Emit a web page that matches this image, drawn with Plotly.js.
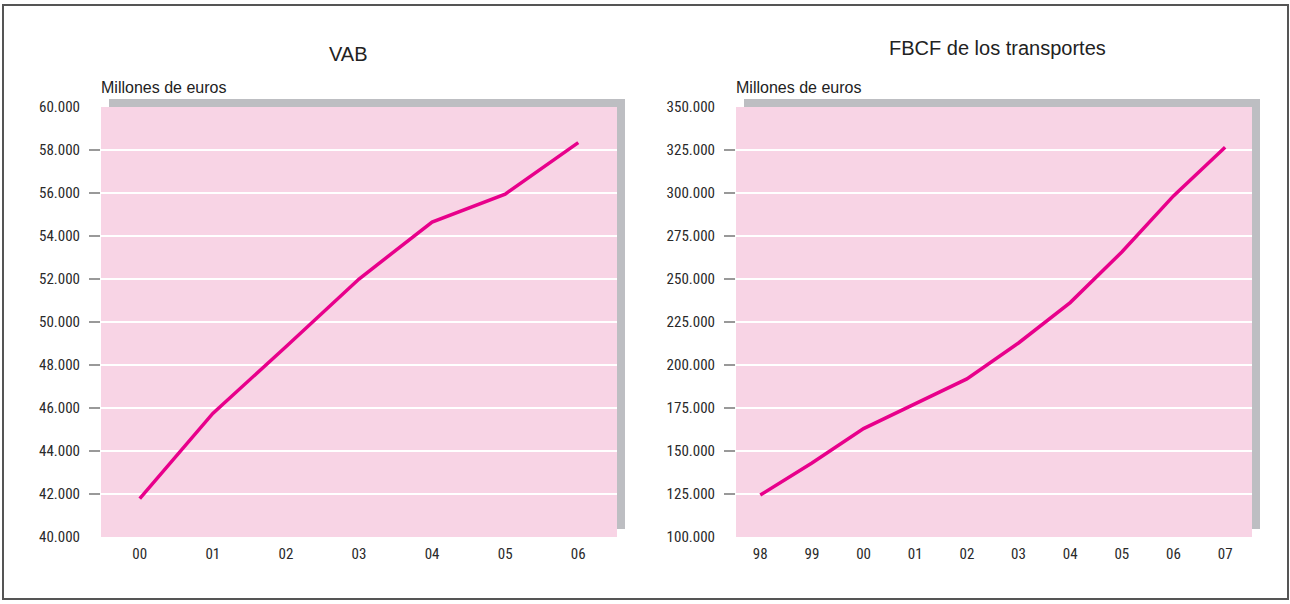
<!DOCTYPE html>
<html>
<head>
<meta charset="utf-8">
<script src="https://cdn.plot.ly/plotly-3.0.1.min.js"></script>
<style>html,body{margin:0;padding:0;background:#fff}#chart{width:1290px;height:604px}</style>
</head>
<body>
<div id="chart"></div>
<script>
// ---- data ----
const vabYears = ['00','01','02','03','04','05','06'];
const vabValues = [41780, 45750, 48850, 52000, 54650, 55950, 58340];
const vabTicks = [40000, 42000, 44000, 46000, 48000, 50000, 52000, 54000, 56000, 58000, 60000];

const fbcfYears = ['98','99','00','01','02','03','04','05','06','07'];
const fbcfValues = [124400, 143000, 163000, 177500, 191900, 212800, 236300, 265700, 298300, 326600];
const fbcfTicks = [100000, 125000, 150000, 175000, 200000, 225000, 250000, 275000, 300000, 325000, 350000];

const titles = ['VAB', 'FBCF de los transportes'];
const unitLabel = 'Millones de euros';

// ---- layout ----
const W = 1290, H = 604;
const px = v => v / W, py = v => 1 - v / H;
const dom1 = [px(101), px(617)];
const dom2 = [px(736), px(1252)];
const ydom = [py(537), py(107)];
const pink = '#f8d4e5', shadow = '#bdbec2', lineCol = '#e8008b';
const txt = '#2a2a2a';
const narrow = '"Liberation Sans Narrow", "Arial Narrow", "Roboto Condensed", "Liberation Sans", Arial, sans-serif';
const sans = '"Liberation Sans", Arial, sans-serif';

function yAxis(ticks, anchor) {
  return {
    domain: ydom, anchor: anchor,
    range: [ticks[0], ticks[ticks.length - 1]],
    tickmode: 'array', tickvals: ticks, tickformat: ',d',
    ticks: 'outside', ticklen: 11, tickcolor: 'rgba(0,0,0,0)', tickwidth: 1.5,
    ticklabelstandoff: 6,
    showgrid: false, zeroline: false, showline: false,
    tickfont: {family: narrow, size: 15, color: txt},
    minor: {tickmode: 'array', tickvals: ticks.slice(1, -1), ticks: 'outside', ticklen: 11,
            tickcolor: '#999999', tickwidth: 1.5, showgrid: true, gridcolor: '#ffffff', gridwidth: 1.5},
    fixedrange: true
  };
}
function xAxis(n, dom, anchor, lo, hi) {
  return {
    domain: dom, anchor: anchor, type: 'category',
    range: [lo, n - 1 + hi],
    ticks: '', showgrid: false, zeroline: false, showline: false,
    ticklabelstandoff: 6,
    tickfont: {family: narrow, size: 15, color: txt},
    fixedrange: true
  };
}

const traces = [
  {x: vabYears, y: vabValues, xaxis: 'x', yaxis: 'y', type: 'scatter', mode: 'lines',
   line: {color: lineCol, width: 3.5}, hoverinfo: 'skip'},
  {x: fbcfYears, y: fbcfValues, xaxis: 'x2', yaxis: 'y2', type: 'scatter', mode: 'lines',
   line: {color: lineCol, width: 3.5}, hoverinfo: 'skip'}
];

function panelShapes(dom) {
  return [
    {type: 'rect', xref: 'paper', yref: 'paper', layer: 'below',
     x0: dom[0] + px(8), x1: dom[1] + px(8), y0: ydom[0] + 8 / H, y1: ydom[1] + 8 / H,
     fillcolor: shadow, line: {width: 0}},
    {type: 'rect', xref: 'paper', yref: 'paper', layer: 'below',
     x0: dom[0], x1: dom[1], y0: ydom[0], y1: ydom[1],
     fillcolor: pink, line: {width: 0}}
  ];
}

const layout = {
  width: W, height: H,
  margin: {l: 0, r: 0, t: 0, b: 0},
  paper_bgcolor: '#ffffff', plot_bgcolor: 'rgba(0,0,0,0)',
  separators: ',.',
  showlegend: false,
  xaxis: xAxis(vabYears.length, dom1, 'y', -0.53, 0.53),
  yaxis: yAxis(vabTicks, 'x'),
  xaxis2: xAxis(fbcfYears.length, dom2, 'y2', -0.47, 0.52),
  yaxis2: yAxis(fbcfTicks, 'x2'),
  shapes: [
    {type: 'rect', xref: 'paper', yref: 'paper', layer: 'below',
     x0: px(3), x1: px(1288), y0: py(599), y1: py(5),
     fillcolor: 'rgba(0,0,0,0)', line: {color: '#555555', width: 2}}
  ].concat(panelShapes(dom1), panelShapes(dom2)),
  annotations: [
    {text: titles[0], xref: 'paper', yref: 'paper', x: px(348), y: py(54), xanchor: 'center', yanchor: 'middle',
     showarrow: false, font: {family: sans, size: 20, color: '#222222'}},
    {text: titles[1], xref: 'paper', yref: 'paper', x: px(997), y: py(48), xanchor: 'center', yanchor: 'middle',
     showarrow: false, font: {family: sans, size: 20, color: '#222222'}},
    {text: unitLabel, xref: 'paper', yref: 'paper', x: px(99), y: py(87), xanchor: 'left', yanchor: 'middle',
     showarrow: false, font: {family: sans, size: 16, color: '#222222'}},
    {text: unitLabel, xref: 'paper', yref: 'paper', x: px(734), y: py(87), xanchor: 'left', yanchor: 'middle',
     showarrow: false, font: {family: sans, size: 16, color: '#222222'}}
  ]
};

Plotly.newPlot('chart', traces, layout, {displayModeBar: false, staticPlot: true});
</script>
</body>
</html>
